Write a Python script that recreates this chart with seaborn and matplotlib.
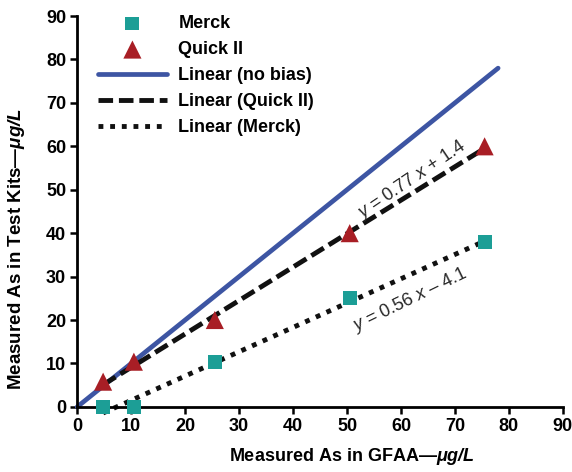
import matplotlib
matplotlib.use("Agg")
import matplotlib.pyplot as plt
import seaborn as sns
import numpy as np
import pandas as pd

gfaa = [4.8, 10.5, 25.5, 50.5, 75.5]
merck = [0.0, 0.0, 10.3, 25.0, 38.0]
quick = [5.8, 10.4, 20.0, 40.0, 60.0]

# fitted lines
quick_slope, quick_icpt = 0.77, 1.4
merck_slope, merck_icpt = 0.56, -4.1
nobias_x = [0, 78]
fit_x = [4.8, 75.5]

ticks = list(range(0, 91, 10))
tick_labels = [str(t) for t in ticks]

sns.set_theme(style="white")
plt.rcParams['font.family'] = ['Liberation Sans', 'DejaVu Sans']
plt.rcParams['font.weight'] = 'bold'
plt.rcParams['mathtext.fontset'] = 'custom'
plt.rcParams['mathtext.rm'] = 'Liberation Sans:normal'
plt.rcParams['mathtext.it'] = 'Liberation Sans:italic:normal'
plt.rcParams['mathtext.bf'] = 'Liberation Sans:bold'
plt.rcParams['mathtext.bfit'] = 'Liberation Sans:italic:bold'

fig = plt.figure(figsize=(5.72, 4.72), dpi=100)
ax = fig.add_axes([0.135, 0.138, 0.849, 0.828])

df_fit = pd.DataFrame({'x': fit_x})
df_fit['quick'] = quick_slope * df_fit['x'] + quick_icpt
df_fit['merck'] = merck_slope * df_fit['x'] + merck_icpt

sns.lineplot(x=nobias_x, y=nobias_x, ax=ax, color='#3d55a3', lw=3.4,
             label='Linear (no bias)', clip_on=False, zorder=2)
sns.lineplot(data=df_fit, x='x', y='quick', ax=ax, color='#111111', lw=3.5,
             linestyle=(0, (3, 1.2)), label='Linear (Quick II)', clip_on=False, zorder=2)
sns.lineplot(data=df_fit, x='x', y='merck', ax=ax, color='#111111', lw=3.5,
             linestyle=(0, (1, 1.4)), label='Linear (Merck)', clip_on=False, zorder=2)

sns.scatterplot(x=gfaa, y=merck, ax=ax, marker='s', s=100, color='#1c9e96',
                edgecolor='none', label='Merck', clip_on=False, zorder=3)
sns.scatterplot(x=gfaa, y=quick, ax=ax, marker='^', s=170, color='#a81e25',
                edgecolor='none', label='Quick II', clip_on=False, zorder=3)

ax.set_xlim(0, 90)
ax.set_ylim(0, 90)
ax.set_xticks(ticks, labels=tick_labels, fontweight='bold', fontsize=13, color='black')
ax.set_yticks(ticks, labels=tick_labels, fontweight='bold', fontsize=13, color='black')
for s in ['top', 'right']:
    ax.spines[s].set_visible(False)
for s in ['left', 'bottom']:
    ax.spines[s].set_linewidth(2)
    ax.spines[s].set_color('black')
ax.tick_params(axis='both', direction='out', length=5, width=1.8, color='black',
               pad=3, bottom=True, left=True)

ax.set_xlabel(r'Measured As in GFAA—$\mathbfit{μg/L}$', fontsize=13,
              fontweight='bold', color='black')
ax.set_ylabel(r'Measured As in Test Kits—$\mathbfit{μg/L}$', fontsize=13.5,
              fontweight='bold', color='black')
ax.xaxis.set_label_coords(0.566, -0.1)
ax.yaxis.set_label_coords(-0.104, 0.405)

# legend in the order of the original
handles, labels = ax.get_legend_handles_labels()
order = ['Merck', 'Quick II', 'Linear (no bias)', 'Linear (Quick II)', 'Linear (Merck)']
hmap = dict(zip(labels, handles))
leg = ax.legend([hmap[k] for k in order], order, loc='upper left',
                bbox_to_anchor=(0.043, 1.002), frameon=False, handlelength=3.8,
                fontsize=13, labelspacing=0.5, handletextpad=0.65,
                borderpad=0, borderaxespad=0)
for t in leg.get_texts():
    t.set_fontweight('bold')
    t.set_color('black')

ax.text(62, 52.3, r'$\it{y}$ = 0.77 $\it{x}$ + 1.4', fontsize=13, fontweight='normal',
        rotation=34, ha='center', va='center', rotation_mode='anchor')
ax.text(61.7, 24.7, r'$\it{y}$ = 0.56 $\it{x}$ – 4.1', fontsize=13, fontweight='normal',
        rotation=26, ha='center', va='center', rotation_mode='anchor')

fig.savefig('out.png', dpi=100)
